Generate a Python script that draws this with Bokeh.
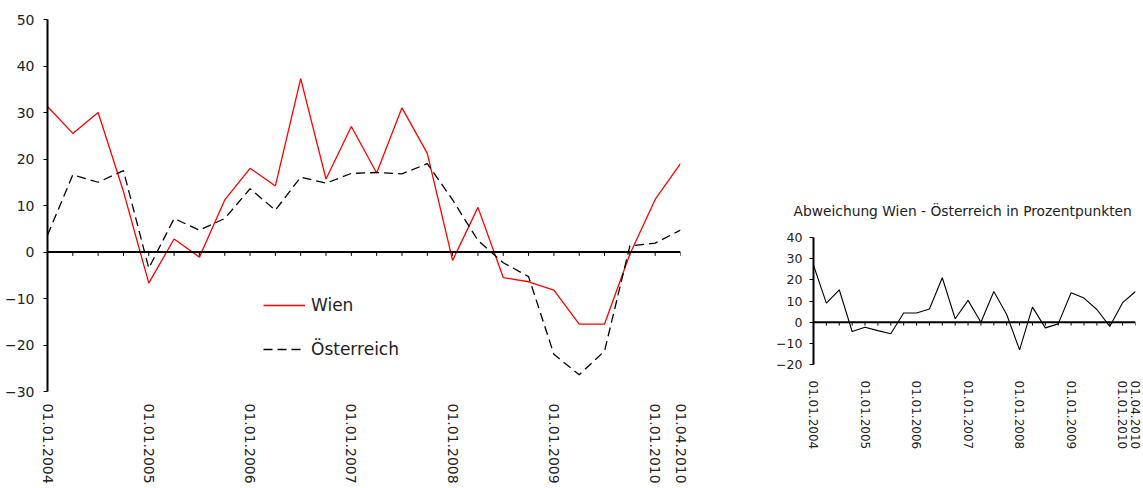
from bokeh.plotting import figure
from bokeh.models import Range1d, FixedTicker, Span, Legend, LegendItem
from bokeh.layouts import row
from bokeh.embed import file_html
from bokeh.resources import INLINE

# ---- data ----
quarters = list(range(26))  # Q1 2004 .. Q2 2010
wien = [31.3, 25.5, 30.0, 13.0, -6.7, 2.8, -1.1, 11.2, 18.0, 14.2, 37.3, 15.7, 27.0,
        17.0, 31.0, 21.2, -1.8, 9.6, -5.5, -6.4, -8.2, -15.5, -15.5, -0.5, 11.3, 19.0]
oesterreich = [3.6, 16.6, 15.0, 17.5, -3.5, 7.2, 4.7, 7.2, 13.6, 9.0, 16.1, 14.8, 16.9,
               17.1, 16.8, 19.0, 11.2, 2.5, -2.3, -5.3, -22.0, -26.4, -21.3, 1.3, 1.9, 4.7]
abweichung = [26.9, 9.0, 15.3, -4.4, -2.4, -4.0, -5.5, 4.3, 4.3, 6.2, 21.0, 1.6, 10.3,
              0.0, 14.5, 3.6, -13.1, 7.1, -2.7, -0.8, 13.9, 11.4, 6.0, -2.0, 9.2, 14.5]
label_ticks = [0, 4, 8, 12, 16, 20, 24, 25]
tick_labels = ["01.01.2004", "01.01.2005", "01.01.2006", "01.01.2007",
               "01.01.2008", "01.01.2009", "01.01.2010", "01.04.2010"]
main_yticks = [-30, -20, -10, 0, 10, 20, 30, 40, 50]
small_yticks = [-20, -10, 0, 10, 20, 30, 40]

FONT = "DejaVu Sans"
TXT = "#222222"


def style(p, yticks, xfs, yfs, xstandoff, ystandoff):
    p.xgrid.visible = False
    p.ygrid.visible = False
    p.outline_line_color = None
    p.xaxis.ticker = FixedTicker(ticks=label_ticks)
    p.xaxis.major_label_overrides = {t: l for t, l in zip(label_ticks, tick_labels)}
    p.xaxis.major_label_orientation = "vertical"
    p.xaxis.axis_line_color = None
    p.xaxis.major_tick_line_color = None
    p.xaxis.minor_tick_line_color = None
    p.xaxis.major_label_standoff = xstandoff
    p.xaxis.major_label_text_font = FONT
    p.xaxis.major_label_text_font_size = xfs
    p.xaxis.major_label_text_color = TXT
    p.yaxis.ticker = FixedTicker(ticks=yticks)
    p.yaxis.axis_line_width = 2
    p.yaxis.axis_line_color = "black"
    p.yaxis.major_tick_in = 0
    p.yaxis.major_tick_out = 4
    p.yaxis.major_tick_line_color = "black"
    p.yaxis.minor_tick_line_color = None
    p.yaxis.major_label_standoff = ystandoff
    p.yaxis.major_label_text_font = FONT
    p.yaxis.major_label_text_font_size = yfs
    p.yaxis.major_label_text_color = TXT
    p.add_layout(Span(location=0, dimension="width", line_color="black", line_width=2))


# ---- main chart ----
p1 = figure(width=692, height=488, x_range=Range1d(0, 25), y_range=Range1d(-30, 50),
            output_backend="svg", toolbar_location=None, frame_align=False,
            min_border_left=47, min_border_right=12, min_border_top=19, min_border_bottom=97)
style(p1, main_yticks, "14px", "14px", 6, 9)
p1.segment(x0=quarters, y0=[0] * 26, x1=quarters, y1=[-0.85] * 26, line_color="black", line_width=1)
r_w = p1.line(quarters, wien, line_color="#ff0000", line_width=1.3)
r_o = p1.line(quarters, oesterreich, line_color="black", line_width=1.3, line_dash="9 5")
leg = Legend(items=[LegendItem(label="Wien", renderers=[r_w]),
                    LegendItem(label="Österreich", renderers=[r_o])],
             location=(216, 32), glyph_width=42, glyph_height=20, label_height=20,
             spacing=24, label_standoff=6, padding=0, margin=0,
             border_line_alpha=0, background_fill_alpha=0,
             label_text_font=FONT, label_text_font_size="17px", label_text_color=TXT)
p1.add_layout(leg, "center")

# ---- deviation chart ----
p2 = figure(width=450, height=488, x_range=Range1d(0, 25), y_range=Range1d(-20, 40),
            output_backend="svg", toolbar_location=None, frame_align=False,
            title="Abweichung Wien - Österreich  in Prozentpunkten",
            min_border_left=121, min_border_right=7, min_border_top=237, min_border_bottom=124)
style(p2, small_yticks, "12px", "12.5px", 10, 7)
p2.title.align = "left"
p2.title.offset = -20
p2.title.text_font = FONT
p2.title.text_font_size = "13.8px"
p2.title.text_font_style = "normal"
p2.title.text_color = TXT
p2.title.standoff = 37
p2.segment(x0=quarters, y0=[0] * 26, x1=quarters, y1=[-1.6] * 26, line_color="black", line_width=1)
p2.line(quarters, abweichung, line_color="black", line_width=1.1)

layout = row(p1, p2)
open("out.html", "w").write(file_html(layout, INLINE))
